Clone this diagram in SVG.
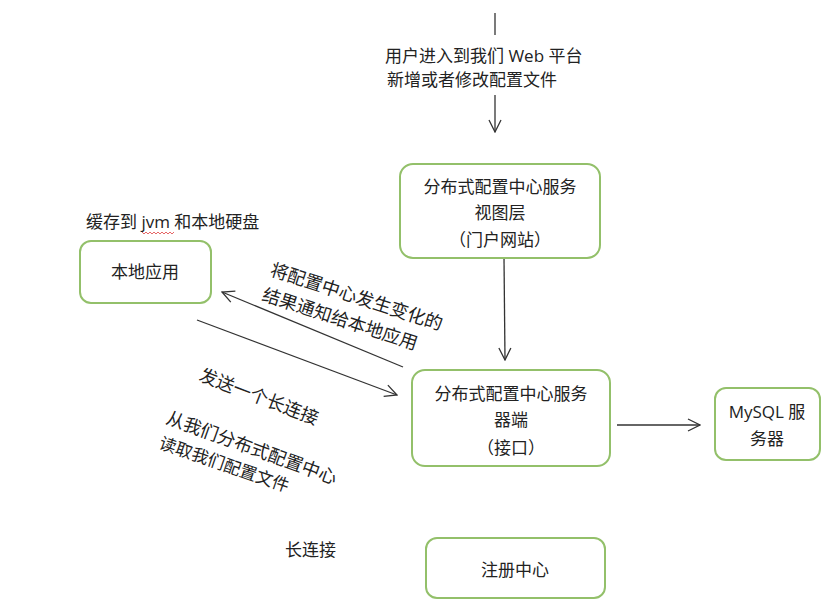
<svg xmlns="http://www.w3.org/2000/svg" width="830" height="599" viewBox="0 0 830 599">
<style>
text{font-family:"Open Sans","Noto Sans CJK SC",sans-serif;font-size:17px;fill:#222}
.c{text-anchor:middle}
.box{fill:#fff;stroke:#93c06a;stroke-width:2}
.ln{stroke:#333;stroke-width:1.3;fill:none}
</style>
<defs>
<marker id="ah" viewBox="0 0 14 14" refX="13" refY="7" markerWidth="14" markerHeight="14" markerUnits="userSpaceOnUse" orient="auto">
<polyline points="1,1 13,7 1,13" fill="none" stroke="#333" stroke-width="1.3"/>
</marker>
</defs>
<rect width="830" height="599" fill="#fff"/>
<g id="connectors">
<line class="ln" x1="495" y1="13" x2="495" y2="35"/>
<line class="ln" x1="495" y1="95" x2="495" y2="132" marker-end="url(#ah)"/>
<line class="ln" x1="504" y1="258" x2="505" y2="360" marker-end="url(#ah)"/>
<line class="ln" x1="617" y1="425" x2="700" y2="425" marker-end="url(#ah)"/>
<line class="ln" x1="403" y1="367" x2="222" y2="292" marker-end="url(#ah)"/>
<line class="ln" x1="197" y1="320" x2="397" y2="395" marker-end="url(#ah)"/>
</g>
<g id="top-label">
<text x="385" y="62">用户进入到我们 Web 平台</text>
<text x="387" y="86">新增或者修改配置文件</text>
</g>
<g id="view-layer">
<rect class="box" x="400" y="164" width="200" height="94" rx="13"/>
<text class="c" x="500" y="193">分布式配置中心服务</text>
<text class="c" x="500" y="219">视图层</text>
<text class="c" x="500" y="246">（门户网站）</text>
</g>
<g id="server">
<rect class="box" x="412" y="370" width="198" height="96" rx="13"/>
<text class="c" x="511" y="400">分布式配置中心服务</text>
<text class="c" x="511" y="426">器端</text>
<text class="c" x="511" y="454">（接口）</text>
</g>
<g id="mysql">
<rect class="box" x="715" y="388" width="105" height="72" rx="11"/>
<text class="c" x="767" y="418">MySQL 服</text>
<text class="c" x="767" y="445">务器</text>
</g>
<g id="local-app">
<rect class="box" x="80" y="241" width="131" height="62" rx="11"/>
<text class="c" x="145" y="278">本地应用</text>
<text x="86" y="228">缓存到 jvm 和本地硬盘</text>
<path d="M142,232 l2,2 l2,-2 l2,2 l2,-2 l2,2 l2,-2 l2,2 l2,-2 l2,2 l2,-2 l2,2 l2,-2 l2,2 l2,-2 l2,2 l2,-2" fill="none" stroke="#e04040" stroke-width="0.8"/>
</g>
<g id="registry">
<rect class="box" x="426" y="538" width="179" height="60" rx="11"/>
<text class="c" x="515" y="576">注册中心</text>
<text x="285" y="556">长连接</text>
</g>
<g id="rotated-labels">
<text x="269" y="275" transform="rotate(18 269 275)" style="font-size:18px">将配置中心发生变化的</text>
<text x="261" y="300" transform="rotate(18 261 300)" style="font-size:18px">结果通知给本地应用</text>
<text x="198" y="380" transform="rotate(21 198 380)" style="font-size:18px">发送一个长连接</text>
<text x="165" y="423" transform="rotate(20 165 423)" style="font-size:18px">从我们分布式配置中心</text>
<text x="158" y="448" transform="rotate(19 158 448)" style="font-size:17px">读取我们配置文件</text>
</g>
</svg>
